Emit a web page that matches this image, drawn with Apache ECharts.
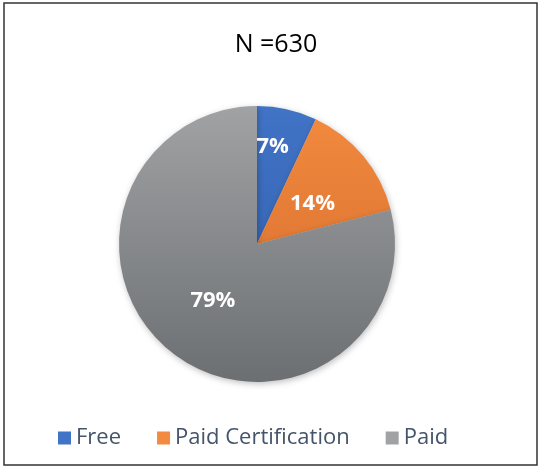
<!DOCTYPE html>
<html><head><meta charset="utf-8">
<script src="https://cdn.jsdelivr.net/npm/echarts@6/dist/echarts.min.js"></script>
<style>html,body{margin:0;padding:0;background:#fff}#c{width:542px;height:469px}</style>
</head><body><div id="c"></div>
<script>
var categories = ['Free', 'Paid Certification', 'Paid'];
var values = [7, 14, 79];
var titleText = 'N =630';
var colorsTop = ['#4173C6', '#F28A3F', '#A0A2A4'];
var colorsBottom = ['#2F5CA8', '#D2692B', '#6C6F72'];

var chart = echarts.init(document.getElementById('c'));
function grad(i){
  return new echarts.graphic.LinearGradient(0, 106, 0, 383, [
    {offset:0, color: colorsTop[i]}, {offset:1, color: colorsBottom[i]}], true);
}
var data = categories.map(function(n,i){
  return {name:n, value:values[i], itemStyle:{color:grad(i)}};
});
chart.setOption({
  animation:false,
  title:{text:titleText, left:271, top:27, textAlign:'center',
    textStyle:{fontFamily:'Open Sans', fontSize:25, fontWeight:'normal', color:'#000'}},
  legend:{bottom:15, left:53, itemWidth:13, itemHeight:13, itemGap:36, icon:'rect',
    textStyle:{fontFamily:'Open Sans', fontSize:22, color:'#44546A'},
    data: categories.map(function(n,i){return {name:n, itemStyle:{color:colorsTop[i]}};})},
  graphic:[{type:'rect', shape:{x:4, y:3, width:533, height:462},
    style:{fill:'none', stroke:'#333', lineWidth:1.5}}],
  series:[{type:'pie', center:[257,244], radius:[0,138], startAngle:90, clockwise:true,
    data:data,
    itemStyle:{shadowBlur:6, shadowColor:'rgba(0,0,0,0.25)', shadowOffsetX:1, shadowOffsetY:2},
    label:{show:true, position:'inside', formatter:'{c}%', color:'#fff',
      fontFamily:'Open Sans', fontWeight:'bold', fontSize:22},
    labelLine:{show:false},
    labelLayout:function(p){
      if(p.dataIndex===0) return {dy:-27};
      if(p.dataIndex===1) return {dy:6};
      return {};
    }
  }]
});
</script></body></html>
